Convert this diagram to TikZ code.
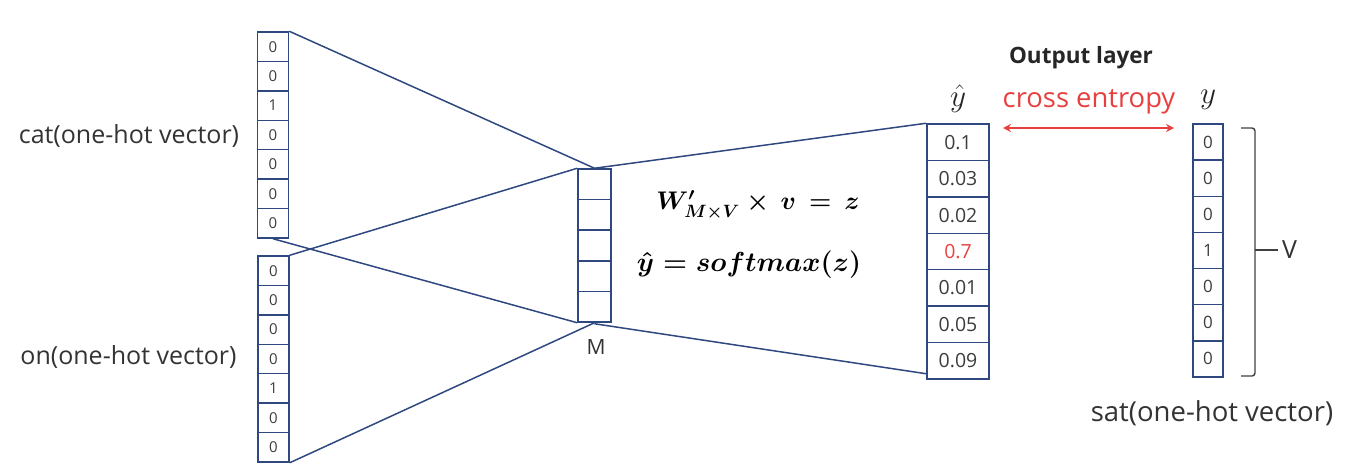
\RequirePackage{fix-cm}
\documentclass[tikz,border=0pt]{standalone}
\usepackage{fontspec}
\usepackage{amsmath}
\usepackage{graphicx}
\setsansfont{Open Sans}
\usetikzlibrary{arrows.meta}
\definecolor{navy}{RGB}{47,72,128}
\definecolor{txtgray}{RGB}{60,60,60}
\definecolor{cered}{RGB}{232,64,63}
\tikzset{
  cellbox/.style={draw=navy, line width=1.5pt, inner sep=0pt, text=txtgray, font=\sffamily\fontsize{15}{15}\selectfont},
  conn/.style={draw=navy, line width=1.5pt},
  lbl/.style={font=\sffamily\fontsize{25}{27}\selectfont, text=black!80, inner sep=0pt}
}
\begin{document}
\begin{tikzpicture}[x=1pt,y=-1pt]
\useasboundingbox (0,0) rectangle (1358,474);
% cat vector
\foreach \v [count=\i] in {0,0,1,0,0,0,0}{
  \node[cellbox, minimum width=31pt, minimum height=29.43pt] (cat\i) at (273,{32+14.71+29.43*(\i-1)}) {\v};
}
% on vector
\foreach \v [count=\i] in {0,0,0,0,1,0,0}{
  \node[cellbox, minimum width=31pt, minimum height=29.43pt] (on\i) at (273.5,{256+14.71+29.43*(\i-1)}) {\v};
}
% M vector
\foreach \i in {1,...,5}{
  \node[cellbox, minimum width=33pt, minimum height=30.6pt] (m\i) at (594.5,{169+15.3+30.6*(\i-1)}) {};
}
% yhat vector
\foreach \v [count=\i] in {0.1,0.03,0.02,{\textcolor{cered}{0.7}},0.01,0.05,0.09}{
  \node[cellbox, font=\sffamily\fontsize{19.5}{19.5}\selectfont, minimum width=62pt, minimum height=36.43pt] (yh\i) at (958,{124+18.21+36.43*(\i-1)}) {\v};
}
% y vector
\foreach \v [count=\i] in {0,0,0,1,0,0,0}{
  \node[cellbox, font=\sffamily\fontsize{17}{17}\selectfont, minimum width=30pt, minimum height=36.14pt] (y\i) at (1208,{124+18.07+36.14*(\i-1)}) {\v};
}
% connectors
\draw[conn] (cat1.north east) -- (m1.north);
\draw[conn] (cat7.south) -- (m5.south west);
\draw[conn] (on1.north east) -- (m1.north west);
\draw[conn] (on7.south east) -- (m5.south);
\draw[conn] (m1.north) -- (yh1.north west);
\draw[conn] ([yshift=-1pt]m5.south) -- ([yshift=6pt]yh7.south west);
% labels
\node[lbl] (catl) at (129,136) {cat(one-hot vector)};
\node[lbl] (onl) at (128.5,357) {on(one-hot vector)};
\node[lbl, font=\sffamily\fontsize{27.5}{29}\selectfont] (satl) at (1212,413) {sat(one-hot vector)};
\node[lbl, font=\sffamily\fontsize{21}{22}\selectfont] (ml) at (596,347) {M};
\node[font=\sffamily\bfseries\fontsize{22.5}{24}\selectfont, text=black!85, inner sep=0pt] (outl) at (1081,58) {Output layer};
\node[lbl, text=cered, font=\sffamily\fontsize{27.4}{29}\selectfont] (cel) at (1089,102) {cross entropy};
\node[font=\fontsize{24}{24}\selectfont, inner sep=0pt, text=black!85] (yhl) at (958,99) {\scalebox{1.3}{$\hat{y}$}};
\node[font=\fontsize{24}{24}\selectfont, inner sep=0pt, text=black!85] (yl) at (1208,100) {\scalebox{1.3}{$y$}};
% equations
\node[font=\fontsize{25.5}{25}\selectfont, inner sep=0pt] (eq1) at (758,205) {$\boldsymbol{W'_{M\times V}\times\, v\, =\, z}$};
\node[font=\fontsize{27.5}{27}\selectfont, inner sep=0pt] (eq2) at (749,265) {$\boldsymbol{\hat{y} = softmax(z)}$};
% cross entropy arrow
\coordinate (ca) at (1003,128);
\coordinate (cb) at (1174,128);
\draw[cered, line width=1.6pt, {Stealth[length=8pt,width=8pt]}-{Stealth[length=8pt,width=8pt]}] (ca) -- (cb);
% bracket
\coordinate (b1) at (1241,128);
\coordinate (b2) at (1241,376);
\coordinate (bm) at (1255,250);
\coordinate (bt) at (1278,250);
\draw[black!75, line width=1.4pt, rounded corners=3pt] (b1) -- (1255,128) -- (1255,376) -- (b2);
\draw[black!75, line width=1.4pt] (bm) -- (bt);
\node[lbl, anchor=west] (vl) at (1282,250) {V};
\end{tikzpicture}
\end{document}
